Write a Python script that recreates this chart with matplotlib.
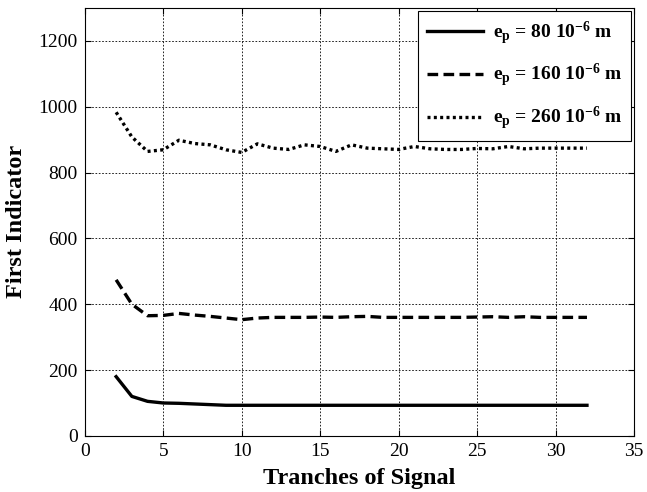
import numpy as np
import matplotlib
matplotlib.use("Agg")
import matplotlib.pyplot as plt

plt.rcParams['font.family'] = ['Liberation Serif', 'DejaVu Serif']
plt.rcParams['mathtext.fontset'] = 'custom'
plt.rcParams['mathtext.rm'] = 'Liberation Serif:bold'
plt.rcParams['mathtext.it'] = 'Liberation Serif:bold'
plt.rcParams['mathtext.bf'] = 'Liberation Serif:bold'

# data
tranches = np.arange(2, 33)
ep80 = [180, 120, 105, 100, 99, 97, 95, 93, 93, 93, 93, 93, 93, 93, 93, 93,
        93, 93, 93, 93, 93, 93, 93, 93, 93, 93, 93, 93, 93, 93, 93]
ep160 = [474, 400, 365, 366, 372, 367, 363, 358, 353, 358, 360, 360, 360, 361, 360, 362,
         363, 360, 360, 360, 360, 360, 360, 361, 362, 360, 362, 360, 360, 360, 360]
ep260 = [983, 908, 864, 869, 898, 888, 884, 869, 861, 887, 874, 870, 884, 879, 864, 884,
         874, 872, 870, 879, 872, 870, 870, 873, 872, 879, 872, 874, 874, 874, 874]
labels = [r'e$_\mathrm{p}$ = 80 10$^{-6}$ m',
          r'e$_\mathrm{p}$ = 160 10$^{-6}$ m',
          r'e$_\mathrm{p}$ = 260 10$^{-6}$ m']

fig = plt.figure(figsize=(6.47, 4.92), dpi=100)
ax = fig.add_axes([0.131, 0.114, 0.849, 0.870])

ax.plot(tranches, ep80, color='black', lw=2.4, ls='-', label=labels[0])
ax.plot(tranches, ep160, color='black', lw=2.4, ls=(0, (3.2, 1.6)), label=labels[1])
ax.plot(tranches, ep260, color='black', lw=2.4, ls=(0, (0.9, 1.0)), label=labels[2])

ax.set_xlim(0, 35)
ax.set_ylim(0, 1300)
ax.set_xticks(range(0, 36, 5))
ax.set_yticks(range(0, 1201, 200))
ax.grid(True, color='black', ls=(0, (2, 2)), lw=0.6)
ax.tick_params(direction='in', top=True, right=True, labelsize=14, length=4)
ax.tick_params(axis='y', pad=5)
ax.tick_params(axis='x', pad=5)
for s in ax.spines.values():
    s.set_linewidth(0.8)

ax.set_xlabel('Tranches of Signal', fontsize=17.5, fontweight='bold', labelpad=6)
ax.set_ylabel('First Indicator', fontsize=17.5, fontweight='bold', labelpad=8)

leg = ax.legend(loc='upper right', fancybox=False, edgecolor='black',
                framealpha=1, handlelength=2.9, borderaxespad=0.15, labelspacing=0.8,
                handletextpad=0.5, borderpad=0.45, prop={'weight': 'bold', 'size': 14})
leg.get_frame().set_linewidth(0.8)

fig.savefig('out.png', dpi=100)
